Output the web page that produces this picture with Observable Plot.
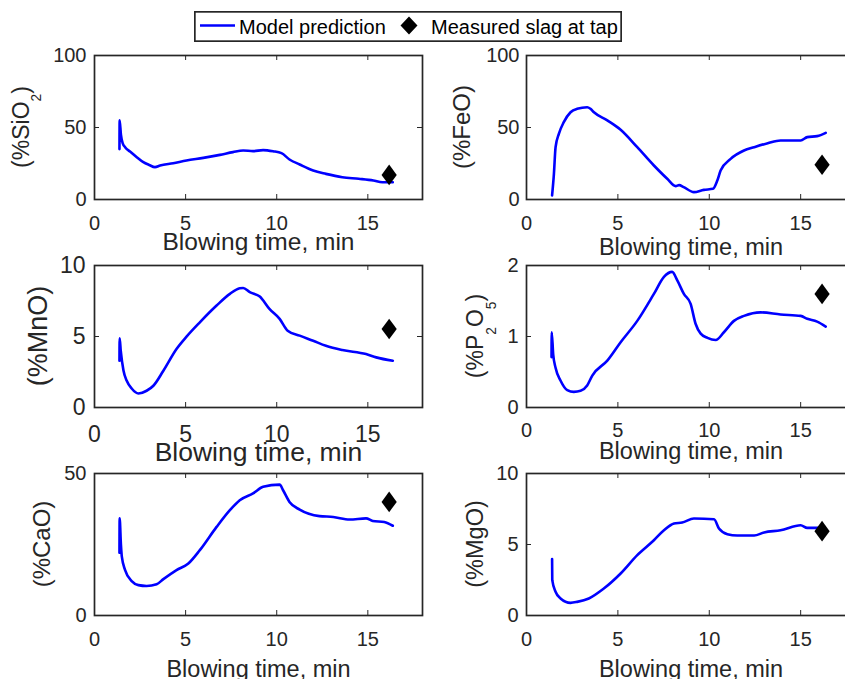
<!DOCTYPE html>
<html>
<head>
<meta charset="utf-8">
<script src="https://cdn.jsdelivr.net/npm/d3@7"></script>
<script src="https://cdn.jsdelivr.net/npm/@observablehq/plot@0.6"></script>
<style>
  html, body { margin: 0; padding: 0; background: #fff; }
  #fig {
    position: relative; width: 845px; height: 679px; overflow: hidden; background: #fff;
    font-family: "Liberation Sans", Arial, Helvetica, sans-serif;
  }
  #fig > svg { position: absolute; }
</style>
</head>
<body>
<div id="fig"></div>
<script>
// ---- Slag composition during blowing: model trajectory [time (min), %] ----
const SiO2 = [[1.37,35],[1.38,55],[1.45,45],[1.55,39],[1.68,36.3],[1.95,33.3],[2.32,29.4],[2.68,25.9],
  [3.0,24],[3.32,22.5],[3.6,23.6],[4.32,25.2],[5.05,27.1],[5.97,28.9],[6.88,31],[7.6,32.9],[8.16,34],
  [8.7,33.6],[9.25,34.3],[9.8,33.5],[10.26,32.2],[10.7,27.8],[11.26,24.3],[12,20.1],[12.7,17.8],
  [13.6,15.5],[14.5,14.4],[15.3,13.2],[15.8,12],[16.37,12]];
const FeO = [[1.4,2.8],[1.5,17.8],[1.59,36.3],[1.77,45.6],[2.04,53.7],[2.41,60.6],[2.77,63],[3.32,64.1],
  [3.5,63],[3.69,60.6],[4.42,54.9],[5.15,48.4],[6.06,36.3],[6.97,23.6],[7.7,14.4],[8.16,9.3],[8.35,10],
  [8.6,8.6],[9.16,5.1],[9.7,6.7],[10.2,7.4],[10.44,13.2],[10.62,20.1],[11.17,28.2],[11.9,34],
  [12.45,36.3],[13.2,39.1],[13.9,41],[15,41],[15.36,43.3],[15.9,44],[16.37,46.3]];
const MnO = [[1.37,3.3],[1.38,4.87],[1.44,4.0],[1.59,2.6],[1.77,1.88],[2.04,1.34],[2.41,0.99],[2.86,1.18],
  [3.23,1.53],[3.78,2.59],[4.5,4.12],[5.05,4.99],[5.78,6.0],[6.7,7.18],[7.43,8.0],[7.97,8.4],[8.16,8.42],
  [8.52,8.12],[9.07,7.81],[9.6,6.94],[10.16,6.24],[10.6,5.41],[11.26,5.06],[12,4.7],[12.7,4.35],
  [13.6,4.05],[14.9,3.76],[15.46,3.53],[16.37,3.29]];
const P2O5 = [[1.37,0.71],[1.38,1.06],[1.46,0.75],[1.59,0.56],[1.86,0.38],[2.23,0.245],[2.59,0.22],
  [2.96,0.235],[3.32,0.31],[3.6,0.45],[4.42,0.66],[5.15,0.92],[6.06,1.22],[6.97,1.6],[7.52,1.84],
  [7.97,1.91],[8.25,1.79],[8.61,1.6],[8.98,1.46],[9.25,1.18],[9.53,1.04],[9.9,0.98],[10.35,0.95],
  [10.8,1.06],[11.35,1.22],[11.9,1.29],[12.8,1.34],[13.9,1.31],[15,1.29],[15.36,1.25],[15.9,1.21],[16.37,1.14]];
const CaO = [[1.37,22.1],[1.38,34.2],[1.45,25],[1.5,20.7],[1.68,16],[2.04,12.1],[2.41,10.7],[2.86,10.4],
  [3.41,11],[3.78,12.8],[4.5,16],[5.15,18.3],[5.78,23],[6.7,31.2],[7.43,37.1],[7.97,40.6],[8.7,43],
  [9.25,45.3],[10.16,46.1],[10.35,44.1],[10.7,40],[11.26,37.3],[12.35,35],[13.1,34.7],[14,33.8],
  [14.9,34.2],[15.27,33.3],[15.9,32.9],[16.37,31.6]];
const MgO = [[1.4,3.97],[1.41,2.49],[1.59,1.67],[1.86,1.2],[2.41,0.89],[2.77,0.96],[3.41,1.2],[4.23,1.9],
  [5.15,2.96],[6.06,4.25],[6.97,5.3],[7.52,6.0],[8.07,6.48],[8.52,6.55],[9.16,6.83],[10.26,6.78],
  [10.53,6.13],[10.99,5.73],[11.53,5.63],[12.45,5.63],[13,5.85],[13.9,6.0],[15,6.36],[15.36,6.17],[16.1,6.17]];

// ---- Measured slag at tap ----
const tapTime = 16.17;
const measuredAtTap = [17.1, 24.1, 5.53, 1.6, 40.0, 5.94];

// ---- Axis settings ----
const xTicks = [0, 5, 10, 15];
const xDomain = [0, 18];
const yMaxes = [100, 100, 10, 2, 50, 10];
const yTickSets = [[0, 50, 100], [0, 50, 100], [0, 5, 10], [0, 1, 2], [0, 50], [0, 5, 10]];
// y-label pieces: even index = normal text, odd index = subscript
const yLabels = [["(%SiO", "2", ")"], ["(%FeO)"], ["(%MnO)"], ["(%P", "2", "O", "5", ")"], ["(%CaO)"], ["(%MgO)"]];
const xTitle = "Blowing time, min";
const legendItems = ["Model prediction", "Measured slag at tap"];

const series = [SiO2, FeO, MnO, P2O5, CaO, MgO];

// ---- Layout (2 columns x 3 rows) ----
const INK = "#262626";
const FONT = '"Liberation Sans", Arial, Helvetica, sans-serif';
const colX = [94, 526], colW = [328, 329];
const rowY = [55, 265, 473], rowH = [144, 142, 142];
const M = {left: 110, right: 10, top: 10, bottom: 70};
// per-panel typography
const look = [
  {tick: 20, xPad: 16, yPad: 8, title: 24.5, titleDy: 50.5, lab: 23, labX: 28.5},
  {tick: 20, xPad: 16, yPad: 7, title: 23.5, titleDy: 55.5, lab: 24, labX: 470},
  {tick: 23, xPad: 18, yPad: 9, title: 26.5, titleDy: 53, lab: 27, labX: 46.5},
  {tick: 20, xPad: 15, yPad: 8, title: 23.5, titleDy: 51, lab: 23, labX: 483},
  {tick: 20, xPad: 16, yPad: 8, title: 23.5, titleDy: 61, lab: 24, labX: 50},
  {tick: 20, xPad: 16, yPad: 8, title: 23.5, titleDy: 61, lab: 23.5, labX: 483}
];

// MATLAB-style diamond marker (slightly taller than wide)
const tapDiamond = {
  draw(ctx, size) {
    const r = Math.sqrt(size / Math.PI), w = r * 0.74;
    ctx.moveTo(0, -r); ctx.lineTo(w, 0); ctx.lineTo(0, r); ctx.lineTo(-w, 0); ctx.closePath();
  }
};

const fig = document.getElementById("fig");

series.forEach((data, i) => {
  const col = i % 2, row = Math.floor(i / 2);
  const fw = colW[col], fh = rowH[row], L = look[i];
  const yTicks = yTickSets[i];
  const svg = Plot.plot({
    width: M.left + fw + M.right,
    height: M.top + fh + M.bottom,
    marginLeft: M.left, marginRight: M.right, marginTop: M.top, marginBottom: M.bottom,
    x: {domain: xDomain},
    y: {domain: [0, yMaxes[i]]},
    style: {background: "transparent", color: INK, fontFamily: FONT, overflow: "visible"},
    marks: [
      Plot.line(data, {x: d => d[0], y: d => d[1], curve: "monotone-x", stroke: "#0000ff", strokeWidth: 2.6, strokeLinejoin: "round"}),
      Plot.dot([{t: tapTime, v: measuredAtTap[i]}], {x: "t", y: "v", symbol: tapDiamond, r: 10.3, fill: "#000", stroke: null}),
      Plot.frame({stroke: INK, strokeWidth: 1.7}),
      // inward ticks on all four sides
      Plot.tickX(xTicks, {x: d => d, insetTop: fh - 5, stroke: INK}),
      Plot.tickX(xTicks, {x: d => d, insetBottom: fh - 5, stroke: INK}),
      Plot.tickY(yTicks, {y: d => d, insetRight: fw - 5, stroke: INK}),
      Plot.tickY(yTicks, {y: d => d, insetLeft: fw - 5, stroke: INK}),
      Plot.axisX(xTicks, {tickSize: 0, tickPadding: L.xPad, fontSize: L.tick, label: null, tickFormat: d => `${d}`}),
      Plot.axisY(yTicks, {tickSize: 0, tickPadding: L.yPad, fontSize: L.tick, label: null, tickFormat: d => `${d}`}),
      Plot.text([xTitle], {frameAnchor: "bottom", dy: L.titleDy, lineAnchor: "bottom", fontSize: L.title, fill: INK})
    ]
  });
  const left = colX[col] - M.left, top = rowY[row] - M.top;
  svg.style.left = left + "px";
  svg.style.top = top + "px";

  // rotated y label with TeX-like subscripts
  const parts = yLabels[i];
  const subSize = L.lab * 0.6, shift = L.lab * 0.56;
  const t = d3.select(svg).append("text")
    .attr("transform", `translate(${L.labX - left},${M.top + fh / 2}) rotate(-90)`)
    .attr("text-anchor", "middle")
    .attr("fill", INK)
    .attr("font-family", FONT)
    .attr("font-size", L.lab);
  parts.forEach((s, k) => {
    const sp = t.append("tspan").text(s);
    if (k % 2 === 1) sp.attr("font-size", subSize).attr("dy", shift);
    else if (k > 0) sp.attr("dy", -shift);
  });
  fig.appendChild(svg);
});

// ---- Legend box ----
const lg = d3.select(fig).append("svg")
  .attr("width", 428).attr("height", 31)
  .style("left", "194px").style("top", "11px");
lg.append("rect").attr("x", 0.85).attr("y", 0.85).attr("width", 426.3).attr("height", 29.3)
  .attr("fill", "#fff").attr("stroke", INK).attr("stroke-width", 1.7);
lg.append("line").attr("x1", 6).attr("x2", 41).attr("y1", 14.5).attr("y2", 14.5)
  .attr("stroke", "#0000ff").attr("stroke-width", 2.6);
lg.append("text").attr("x", 45).attr("y", 22.5).attr("font-family", FONT).attr("font-size", 20)
  .attr("fill", "#000").text(legendItems[0]);
lg.append("path").attr("d", "M215,5.5L223.5,14.5L215,23.5L206.5,14.5Z").attr("fill", "#000");
lg.append("text").attr("x", 237).attr("y", 22.5).attr("font-family", FONT).attr("font-size", 20)
  .attr("fill", "#000").text(legendItems[1]);
</script>
</body>
</html>
